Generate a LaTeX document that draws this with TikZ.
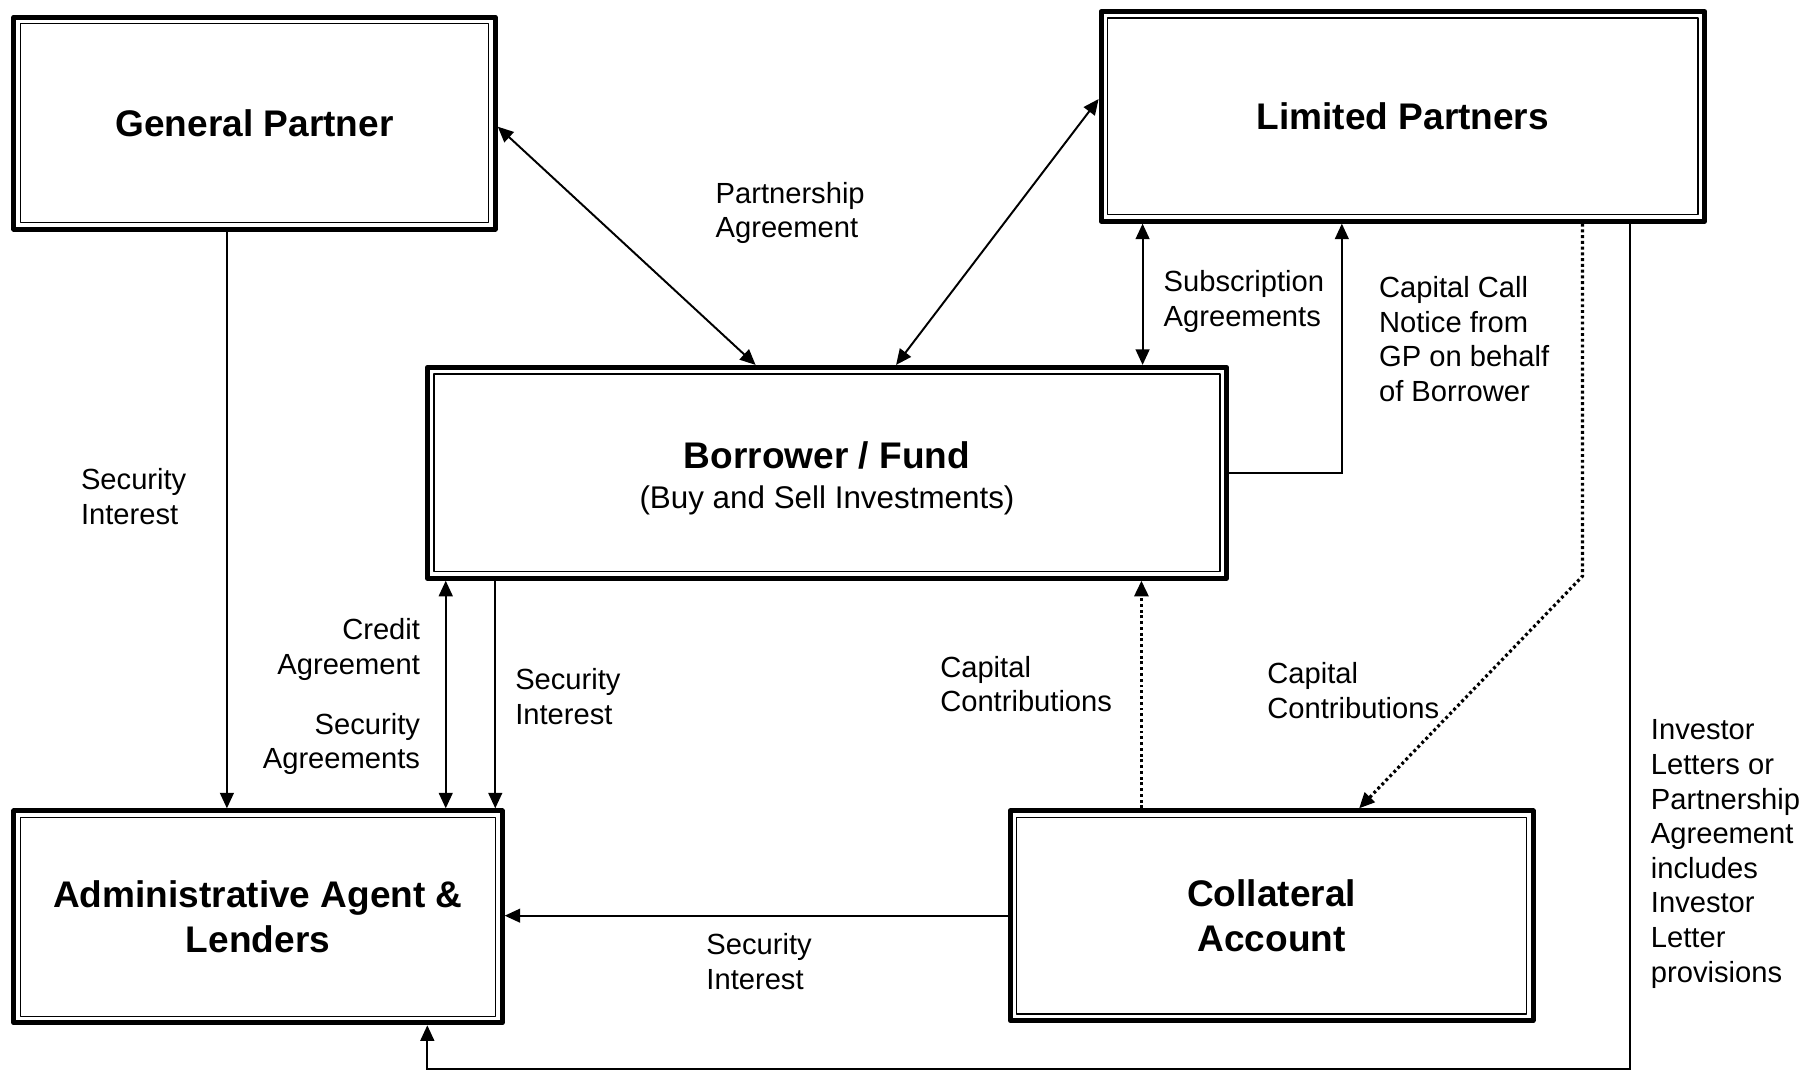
\documentclass[tikz,border=0pt]{standalone}
\usepackage{fontspec}
\setmainfont{Liberation Sans}
\usetikzlibrary{arrows.meta}
\newcommand{\boxfont}{\fontsize{18.3}{22.2}\selectfont\bfseries}
\newcommand{\labelfont}{\fontsize{14.4}{17.1}\selectfont}
\begin{document}
\begin{tikzpicture}[
		>={Triangle[length=0.27cm,width=0.24cm]},
		conn/.style={line width=0.034cm},
		dotline/.style={line width=0.055cm,dash pattern=on 0.05cm off 0.05cm},
		party/.style={draw,line width=0.087cm,line join=round,align=center,font=\boxfont,
			path picture={\draw[line width=0.025cm]
				([shift={(0.113,0.113)}]path picture bounding box.south west) rectangle
				([shift={(-0.113,-0.113)}]path picture bounding box.north east);}},
		note/.style={font=\labelfont,inner sep=0pt,align=left}
	]
	\useasboundingbox (0,0) rectangle (31.36,18.64);
	% parties
	\node[party,minimum width=8.36cm,minimum height=3.68cm] (gp) at (4.42,16.50) {General Partner};
	\node[party,minimum width=10.48cm,minimum height=3.64cm] (lp) at (24.36,16.62) {Limited Partners};
	\node[party,minimum width=13.88cm,minimum height=3.66cm] (bf) at (14.36,10.43)
		{\rule{0pt}{19pt}Borrower / Fund\\[-2.3pt]{\mdseries\fontsize{15.5}{18}\selectfont(Buy and Sell Investments)}};
	\node[party,minimum width=8.48cm,minimum height=3.68cm] (aa) at (4.48,2.72) {Administrative Agent \&\\Lenders};
	\node[party,minimum width=9.08cm,minimum height=3.64cm] (ca) at (22.08,2.74) {Collateral\\Account};
	% connectors
	\draw[conn,<->] ([yshift=-0.06cm]gp.east) -- ([xshift=-1.24cm]bf.north);
	\draw[conn,<->] ([yshift=0.30cm]lp.west) -- ([xshift=1.20cm]bf.north);
	\draw[conn,<->] ([xshift=-4.52cm]lp.south) coordinate (sub) -- (sub |- bf.north);
	\draw[conn,->] (bf.east) -| ([xshift=-1.06cm]lp.south);
	\draw[conn,dotline,->] ([xshift=3.12cm]lp.south) -- ++(0,-6.12) -- ([xshift=1.52cm]ca.north);
	\draw[conn,->] ([xshift=3.94cm]lp.south) -- ++(0,-14.68) -| ([xshift=2.94cm]aa.south);
	\draw[conn,->] ([xshift=-0.48cm]gp.south) coordinate (gpd) -- (gpd |- aa.north);
	\draw[conn,<->] ([xshift=-6.62cm]bf.south) coordinate (cr) -- (cr |- aa.north);
	\draw[conn,->] ([xshift=-5.76cm]bf.south) coordinate (sec) -- (sec |- aa.north);
	\draw[conn,dotline,->] ([xshift=-2.26cm]ca.north) coordinate (con) -- (con |- bf.south);
	\draw[conn,->] (ca.west) -- (ca.west -| aa.east);
	% labels
	\node[note,anchor=west] (pa) at (12.42,14.94) {Partnership\\Agreement};
	\node[note,anchor=west] (subl) at (20.20,13.40) {Subscription\\Agreements};
	\node[note,anchor=west] (call) at (23.94,12.75) {Capital Call\\Notice from\\GP on behalf\\of Borrower};
	\node[note,anchor=west] (gpsec) at (1.40,10.02) {Security\\Interest};
	\node[note,anchor=east,align=right] (cred) at (7.30,7.36) {Credit\\Agreement};
	\node[note,anchor=east,align=right] (secag) at (7.30,5.72) {Security\\Agreements};
	\node[note,anchor=west] (bfsec) at (8.94,6.54) {Security\\Interest};
	\node[note,anchor=west] (contl) at (16.32,6.76) {Capital\\Contributions};
	\node[note,anchor=west] (contr) at (22.00,6.65) {Capital\\Contributions};
	\node[note,anchor=west] (inv) at (28.66,3.81)
		{Investor\\Letters or\\Partnership\\Agreement\\includes\\Investor\\Letter\\provisions};
	\node[note,anchor=west] (casec) at (12.26,1.94) {Security\\Interest};
\end{tikzpicture}
\end{document}
